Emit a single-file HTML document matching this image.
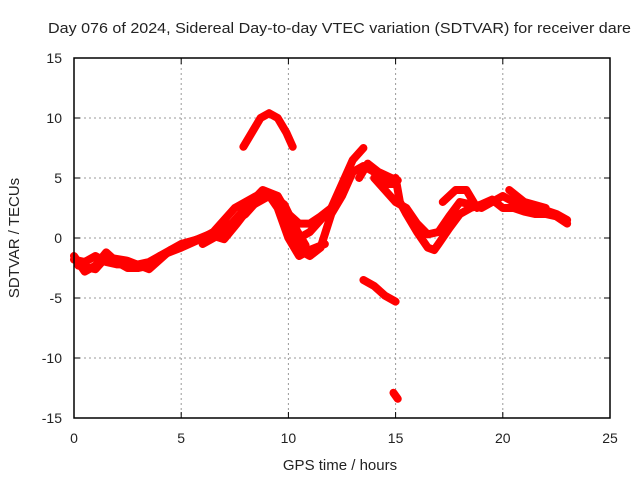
<!DOCTYPE html>
<html><head><meta charset="utf-8"><style>
body{margin:0;background:#fff}
svg text{font-family:"Liberation Sans",sans-serif;font-size:14px;fill:#222}
</style></head><body>
<svg width="640" height="480">
<g id="grid"></g>
<g id="series"></g>
<rect x="74" y="58" width="536" height="360" fill="none" stroke="#000" stroke-width="1.5"/>
<g id="ticks"></g>
<text x="48" y="33" textLength="583" lengthAdjust="spacingAndGlyphs" style="font-size:15px">Day 076 of 2024, Sidereal Day-to-day VTEC variation (SDTVAR) for receiver dare</text>
<text x="340" y="470" text-anchor="middle" style="font-size:15px">GPS time / hours</text>
<text x="19" y="238" text-anchor="middle" transform="rotate(-90 19 238)" style="font-size:15px">SDTVAR / TECUs</text>
</svg>
<script>
const xTicks=[0,5,10,15,20,25];
const yTicks=[-15,-10,-5,0,5,10,15];
const trackA=[[0,-1.8],[0.5,-2],[1,-1.5],[1.5,-2],[2,-2.2],[3,-2.2],[3.5,-2],[4,-1.5],[5,-0.5],[6,0],[7,0.8],[8,2],[8.5,3],[9,3.8],[9.5,3.5],[10,1.5],[10.5,-1],[11,-1.5],[11.5,-0.8],[12,2],[12.5,3.5],[13,5.5],[13.5,6],[14,5.5],[14.5,4.5],[15,4.5]];
const trackB=[[0,-1.5],[0.5,-2.8],[1,-2.3],[1.5,-1.2],[2,-2],[2.5,-2.5],[3,-2.5],[3.5,-2.3],[4,-1.5],[5,-0.8],[6,0],[6.5,0.5],[7,1.5],[7.5,2.5],[8,3],[8.5,3.5],[9,3.8],[9.5,2.5],[10,0],[10.5,-1.5],[11,-1],[11.7,-0.5]];
const trackF=[[0.2,-2.3],[1,-2.6],[1.5,-1.6],[2.5,-1.9],[3.5,-2.6],[4.5,-1],[5.5,-0.3],[6.3,0.3],[7,-0.1],[7.6,1.2],[8.2,2.6],[9.2,3.6],[9.8,2.8],[10.4,0.6],[10.8,-0.6]];
const trackC=[[6,-0.5],[7,0.5],[8,2.5],[8.8,4],[9.5,3.5],[10,2],[10.5,1.2],[11,1.2],[11.5,1.8],[12,2.5]];
const trackD=[[10,1],[10.5,0],[11,0.5],[11.5,1.5],[12,2.5],[12.5,4.5],[13,6.5],[13.5,7.5]];
const trackE=[[13.3,5],[13.7,6.2],[14.2,5.5],[14.8,5],[15.1,4.8]];
const hump=[[7.9,7.6],[8.3,8.8],[8.7,10],[9.1,10.4],[9.5,10],[9.9,8.8],[10.2,7.6]];
const negA=[[13.5,-3.5],[14,-4],[14.5,-4.8],[15,-5.3]];
const negB=[[14.9,-12.9],[15.1,-13.4]];
const right1=[[15,5],[15.2,3],[15.5,2],[16,0.5],[16.5,-0.8],[16.8,-1],[17,-0.5],[17.5,0.8],[18,2],[18.5,2.5],[19,2.8],[19.5,3.2],[20,2.5],[20.5,2.5],[21,2.2],[21.5,2],[22,2],[22.5,1.8],[23,1.2]];
const right2=[[14,5],[14.5,4],[15,3],[15.5,2.5],[16,1.2],[16.5,0.3],[17,0.5],[17.5,1.8],[18,3],[18.5,2.8],[19,2.5],[19.5,3],[20,3.5],[20.5,3],[21,2.5],[21.5,2.3],[22,2.3],[22.5,2],[23,1.5]];
const right3=[[17.2,3],[17.8,4],[18.3,4],[18.8,2.5]];
const right4=[[20.3,4],[21,3],[22,2.5]];
const tracks=[trackA,trackB,trackF,trackC,trackD,trackE,hump,negA,negB,right1,right2,right3,right4];
const X=h=>74+h*536/25, Y=v=>238-v*12;
const NS='http://www.w3.org/2000/svg';
const grid=document.getElementById('grid'),ticks=document.getElementById('ticks'),ser=document.getElementById('series');
function mk(t,a,p){const e=document.createElementNS(NS,t);for(const k in a)e.setAttribute(k,a[k]);p.appendChild(e);return e;}
xTicks.forEach(t=>{const x=X(t);
 if(t>0&&t<25){const g=mk('line',{x1:x,x2:x,y1:58,y2:418,stroke:'#999','stroke-dasharray':'2,3'},grid);
 
 }
 const l=mk('text',{x:x,y:443,'text-anchor':'middle'},ticks);l.textContent=t;
 
 
 mk('line',{x1:x,x2:x,y1:418,y2:412,stroke:'#000'},ticks);mk('line',{x1:x,x2:x,y1:58,y2:64,stroke:'#000'},ticks);});
yTicks.forEach(t=>{const y=Y(t);
 if(t>-15&&t<15){const g=mk('line',{x1:74,x2:610,y1:y,y2:y,stroke:'#999','stroke-dasharray':'2,3'},grid);
 
 }
 const l=mk('text',{x:62,y:y+5,'text-anchor':'end'},ticks);l.textContent=t;
 
 
 mk('line',{x1:74,x2:80,y1:y,y2:y,stroke:'#000'},ticks);mk('line',{x1:610,x2:604,y1:y,y2:y,stroke:'#000'},ticks);});
tracks.forEach(tr=>{const p=mk('polyline',{points:tr.map(d=>X(d[0])+','+Y(d[1])).join(' '),fill:'none',stroke:'#f00','stroke-width':8,'stroke-linejoin':'round','stroke-linecap':'round'},ser);
 
 });
</script>
</body></html>
